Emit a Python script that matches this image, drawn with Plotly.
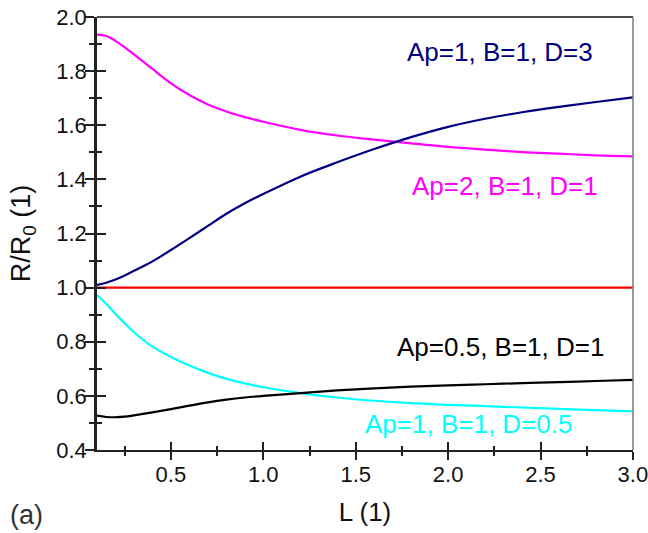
import plotly.graph_objects as go

# Sampled curves R/R0 versus L
L = [0.1, 0.15, 0.2, 0.25, 0.3, 0.4, 0.5, 0.6, 0.7, 0.8, 0.9, 1.0,
     1.2, 1.4, 1.6, 1.8, 2.0, 2.2, 2.4, 2.6, 2.8, 3.0]

r_ap2_b1_d1 = [1.935, 1.930, 1.912, 1.888, 1.862, 1.808, 1.755, 1.712, 1.677, 1.651, 1.630, 1.613,
               1.583, 1.562, 1.547, 1.533, 1.520, 1.510, 1.501, 1.495, 1.489, 1.485]
r_ap1_b1_d3 = [1.010, 1.018, 1.030, 1.045, 1.062, 1.097, 1.139, 1.183, 1.228, 1.273, 1.312, 1.346,
               1.410, 1.463, 1.512, 1.556, 1.594, 1.624, 1.648, 1.668, 1.686, 1.703]
r_ap1_b1_d1 = [1.0] * len(L)
r_ap1_b1_d05 = [0.973, 0.940, 0.903, 0.868, 0.835, 0.782, 0.744, 0.712, 0.685, 0.663, 0.646, 0.632,
                0.610, 0.594, 0.582, 0.573, 0.567, 0.562, 0.557, 0.552, 0.547, 0.543]
r_ap05_b1_d1 = [0.527, 0.522, 0.521, 0.523, 0.528, 0.539, 0.551, 0.564, 0.576, 0.586, 0.594, 0.600,
                0.610, 0.620, 0.628, 0.634, 0.639, 0.643, 0.647, 0.651, 0.655, 0.659]

x_range = [0.1, 3.0005]
y_range = [0.4, 2.0]
x_ticks = [0.5, 1.0, 1.5, 2.0, 2.5, 3.0]
y_ticks = [0.4, 0.6, 0.8, 1.0, 1.2, 1.4, 1.6, 1.8, 2.0]

FONT = "Liberation Sans, Arial, Helvetica, sans-serif"
AXIS_COLOR = "#222222"
TEXT_COLOR = "#111111"

curves = [
    (r_ap2_b1_d1, "#ff00ff", "Ap=2, B=1, D=1"),
    (r_ap1_b1_d3, "#000080", "Ap=1, B=1, D=3"),
    (r_ap1_b1_d05, "#00ffff", "Ap=1, B=1, D=0.5"),
    (r_ap05_b1_d1, "#000000", "Ap=0.5, B=1, D=1"),
]

fig = go.Figure()
for ys, color, name in curves:
    fig.add_trace(go.Scatter(
        x=L, y=ys, mode="lines", name=name,
        line=dict(color=color, width=2.2, shape="spline", smoothing=1.0),
        showlegend=False,
    ))
# Reference level R = R0 (on the overlay axes, which carry the inner tick halves)
fig.add_trace(go.Scatter(
    x=L, y=r_ap1_b1_d1, mode="lines", name="Ap=1, B=1, D=1",
    line=dict(color="#ff0000", width=2.2), showlegend=False,
    xaxis="x2", yaxis="y2",
))

# Curve labels
labels = [
    ("Ap=1, B=1, D=3", "#000080", 2.28, 1.872),
    ("Ap=2, B=1, D=1", "#ff00ff", 2.306, 1.376),
    ("Ap=0.5, B=1, D=1", "#000000", 2.286, 0.781),
    ("Ap=1, B=1, D=0.5", "#00ffff", 2.113, 0.496),
]
for text, color, ax, ay in labels:
    fig.add_annotation(
        x=ax, y=ay, xref="x", yref="y", text=text, showarrow=False,
        font=dict(family=FONT, size=26, color=color),
        xanchor="center", yanchor="middle",
    )

fig.add_annotation(
    x=-0.166, y=-0.15, xref="paper", yref="paper", text="(a)", showarrow=False,
    font=dict(family=FONT, size=27, color="#333333"),
    xanchor="left", yanchor="middle",
)

tick_font = dict(family=FONT, size=22, color=TEXT_COLOR)

common_x = dict(range=x_range, tickvals=x_ticks, tickformat=".1f", automargin=False,
                tickwidth=1.5, tickcolor=AXIS_COLOR, showgrid=False, zeroline=False)
common_y = dict(range=y_range, tickvals=y_ticks, tickformat=".1f", automargin=False,
                tickwidth=1.5, tickcolor=AXIS_COLOR, showgrid=False, zeroline=False)

fig.update_layout(
    width=648, height=533,
    margin=dict(l=97, r=15, t=17, b=83, autoexpand=False),
    paper_bgcolor="white", plot_bgcolor="white",
    xaxis=dict(
        **common_x,
        ticks="outside", ticklen=8,
        minor=dict(ticks="outside", ticklen=4, dtick=0.25, tick0=0.25,
                   tickcolor=AXIS_COLOR, tickwidth=1.5),
        showline=True, linecolor=AXIS_COLOR, linewidth=2,
        tickfont=tick_font, ticklabelstandoff=-4, ticklabeloverflow="allow",
        title=dict(text="L (1)", font=dict(family=FONT, size=26, color=TEXT_COLOR), standoff=16),
    ),
    yaxis=dict(
        **common_y,
        ticks="outside", ticklen=9,
        minor=dict(ticks="outside", ticklen=5, dtick=0.1, tick0=0.5,
                   tickcolor=AXIS_COLOR, tickwidth=1.5),
        showline=True, linecolor=AXIS_COLOR, linewidth=2.5,
        tickfont=tick_font, ticklabelstandoff=-6, ticklabeloverflow="allow",
        title=dict(text="R/R<sub>0</sub> (1)", font=dict(family=FONT, size=27, color=TEXT_COLOR),
                   standoff=18),
    ),
    xaxis2=dict(
        **common_x, overlaying="x", anchor="y2", side="bottom",
        ticks="inside", ticklen=8, showticklabels=False, showline=False,
        minor=dict(ticks="inside", ticklen=4, dtick=0.25, tick0=0.25,
                   tickcolor=AXIS_COLOR, tickwidth=1.5),
    ),
    yaxis2=dict(
        **common_y, overlaying="y", anchor="x2", side="left",
        ticks="inside", ticklen=9, showticklabels=False, showline=False,
        minor=dict(ticks="inside", ticklen=5, dtick=0.1, tick0=0.5,
                   tickcolor=AXIS_COLOR, tickwidth=1.5),
    ),
)

# Top and right frame lines
fig.add_shape(type="line", xref="paper", yref="paper", x0=0, x1=1, y0=1, y1=1,
              line=dict(color="#111111", width=1.5))
fig.add_shape(type="line", xref="paper", yref="paper", x0=1, x1=1, y0=0, y1=1,
              line=dict(color="#7a7a7a", width=1.5))

fig.write_html("out.html")
